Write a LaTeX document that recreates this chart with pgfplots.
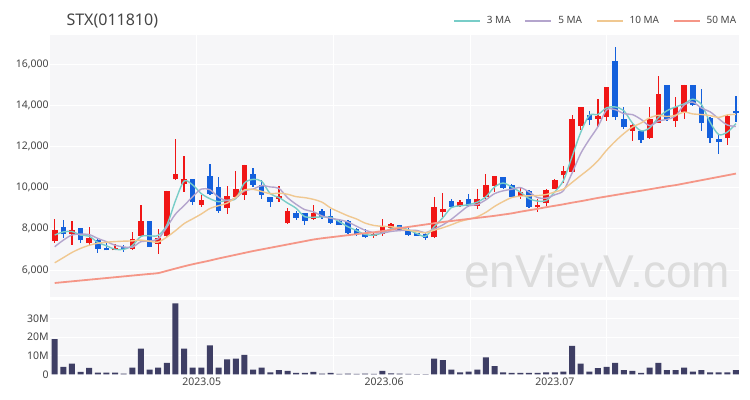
\documentclass[border=0pt]{standalone}
\usepackage{fontspec}
\setmainfont{Noto Sans}
\newfontfamily\wmfont{Liberation Sans}
\usepackage{pgfplots}
\pgfplotsset{compat=1.18}
\usepackage{pgfplotstable}

\definecolor{panelbg}{RGB}{246,246,248}
\definecolor{labelgray}{RGB}{70,70,70}
\definecolor{upred}{RGB}{240,22,22}
\definecolor{downblue}{RGB}{20,96,220}
\definecolor{volcol}{RGB}{62,62,100}
\definecolor{maA}{RGB}{120,205,200}
\definecolor{maB}{RGB}{180,165,205}
\definecolor{maC}{RGB}{240,200,145}
\definecolor{maD}{RGB}{245,150,135}
\definecolor{wmark}{RGB}{220,220,220}

% rising days (close >= open)
\pgfplotstableread{
i o h l c
0 7400 8480 7310 7950
2 7730 8370 7190 7920
4 7305 8080 7145 7565
7 6950 7240 6950 7050
9 7015 7855 6985 7500
10 7660 9180 7600 8370
12 7275 8000 6790 7565
13 7630 9855 7600 9855
14 10400 12355 10370 10660
15 10180 11515 9775 10435
17 9180 9660 9080 9400
20 9015 10100 8695 9615
21 9565 10820 9530 9935
22 9660 11115 9405 11115
26 9450 10100 9290 9595
27 8275 9015 8240 8855
30 8470 9180 8405 8790
37 7630 7790 7530 7725
38 7725 8500 7675 8080
39 8050 8275 8000 8210
44 7595 9565 7565 9080
45 8820 9760 8565 8950
47 9130 9390 9065 9325
49 9130 9955 8985 9425
50 9520 10650 9425 10105
51 10070 10555 9780 10555
54 9585 9975 9425 9810
56 9035 9425 8805 9165
57 9230 9910 9100 9875
58 9940 10395 9910 10360
59 10590 11040 10235 10815
60 10750 13520 10720 13345
61 12985 13925 12790 13895
63 13345 14280 12920 13470
64 13440 14865 13215 14865
67 12760 13115 12275 13050
69 12405 13925 12370 13345
70 13115 15415 13115 14540
72 13215 14380 12920 13895
73 13665 14995 13310 14995
78 12405 13505 12050 13470
}\upday

% falling days (close < open)
\pgfplotstableread{
i o h l c
1 8110 8440 7560 7730
3 8050 8050 7310 7435
5 7470 7500 6850 7015
6 7080 7355 6950 6950
8 7110 7190 6890 7015
11 8400 8400 7110 7110
16 10420 10420 9180 9290
18 10580 11145 9660 9695
19 10015 10530 8790 8855
23 10660 10950 10050 10145
24 10145 10370 9435 9660
25 9530 9565 9080 9305
28 8760 8855 8405 8530
29 8760 8790 8180 8370
31 8855 8965 8500 8565
32 8630 8985 8275 8305
33 8370 8405 8175 8175
34 8370 8405 7760 7820
35 7985 8050 7660 7760
36 7820 7985 7565 7595
40 8175 8175 7950 7950
41 7950 8050 7660 7695
42 7790 7790 7660 7660
43 7760 7790 7435 7565
46 9360 9425 9035 9065
48 9455 9680 9100 9130
52 10525 10525 9975 10005
53 10135 10170 9520 9520
55 9845 9875 9035 9065
62 13505 13730 13020 13280
65 16160 16810 13280 13410
66 13345 13925 12825 12920
68 12725 12725 12145 12305
71 14965 14965 13215 13310
74 14995 14995 13960 13990
75 13925 14800 12760 13115
76 13375 13440 12145 12405
77 12370 12600 11625 12210
79 13700 14445 13180 13635
}\downday

% moving averages
\pgfplotstableread{
i m3 m5 m10 m50
0 7700 7130 6350 5370
1 7850 7450 6600 5410
2 7867 7700 6850 5450
3 7695 7740 7050 5490
4 7640 7720 7200 5530
5 7338 7533 7300 5570
6 7177 7377 7350 5610
7 7005 7203 7380 5650
8 7005 7119 7400 5690
9 7188 7106 7413 5730
10 7628 7377 7455 5770
11 7660 7409 7393 5810
12 7682 7512 7358 5850
13 8177 8080 7600 5960
14 9360 8712 7909 6070
15 10317 9125 8251 6180
16 10128 9561 8485 6280
17 9708 9928 8720 6370
18 9462 9896 8988 6460
19 9317 9535 9124 6560
20 9388 9371 9248 6650
21 9468 9500 9531 6740
22 10222 9843 9886 6830
23 10398 9933 9915 6920
24 10307 10094 9815 7000
25 9703 10032 9702 7080
26 9520 9964 9732 7160
27 9252 9512 9678 7240
28 8993 9189 9561 7320
29 8585 8931 9513 7400
30 8563 8828 9430 7480
31 8575 8622 9293 7540
32 8553 8512 9012 7590
33 8348 8441 8815 7640
34 8100 8331 8631 7690
35 7918 8125 8477 7740
36 7725 7931 8277 7790
37 7693 7815 8164 7830
38 7800 7796 8119 7890
39 8005 7874 8103 7950
40 8080 7912 8019 8030
41 7952 7932 7932 8090
42 7768 7919 7867 8150
43 7640 7816 7806 8210
44 8102 7990 7932 8270
45 8532 8190 8051 8330
46 9032 8464 8198 8380
47 9113 8797 8358 8430
48 9173 9110 8463 8480
49 9293 9179 8585 8530
50 9553 9410 8800 8580
51 10028 9708 9086 8630
52 10222 9844 9321 8690
53 10027 9922 9516 8750
54 9778 9999 9589 8830
55 9465 9791 9601 8900
56 9347 9513 9611 8970
57 9368 9487 9666 9050
58 9800 9655 9789 9120
59 10350 9856 9928 9190
60 11507 10712 10252 9270
61 12685 11658 10586 9340
62 13507 12339 10913 9420
63 13548 12961 11308 9500
64 13872 13771 11814 9570
65 13915 13784 12248 9640
66 13732 13589 12624 9710
67 13127 13543 12941 9780
68 12758 13310 13136 9850
69 12900 13006 13389 9920
70 13397 13232 13508 9990
71 13732 13310 13450 10060
72 13915 13479 13511 10120
73 14067 14017 13664 10200
74 14293 14146 13576 10280
75 14033 13861 13547 10360
76 13170 13680 13495 10440
77 12577 13343 13411 10520
78 12695 13038 13528 10600
79 13105 12967 13557 10680
}\mavg

% volume, millions of shares
\pgfplotstableread{
i v
0 18.9
1 4.0
2 5.8
3 1.3
4 3.5
5 0.9
6 0.9
7 0.9
8 0.4
9 3.6
10 13.8
11 2.5
12 3.6
13 6.2
14 38.2
15 13.8
16 3.6
17 3.6
18 15.6
19 3.6
20 8.0
21 8.4
22 10.5
23 2.5
24 3.6
25 1.1
26 2.2
27 1.8
28 0.7
29 0.7
30 1.3
31 0.4
32 0.7
33 0.2
34 0.4
35 0.2
36 0.4
37 0.2
38 1.8
39 0.5
40 0.4
41 0.2
42 0.1
43 0.1
44 8.4
45 7.6
46 2.5
47 1.1
48 1.5
49 2.5
50 9.1
51 4.4
52 1.1
53 0.7
54 0.7
55 0.7
56 0.7
57 1.1
58 1.1
59 1.5
60 15.3
61 5.8
62 1.5
63 3.3
64 4.0
65 6.2
66 2.2
67 1.8
68 0.7
69 3.6
70 6.2
71 2.2
72 2.2
73 3.6
74 1.5
75 2.2
76 1.1
77 1.1
78 1.1
79 2.2
}\vol

\pgfplotsset{
  panel/.style={
    scale only axis, width=689bp,
    xmin=-0.5, xmax=79.4,
    axis background/.style={fill=panelbg},
    axis line style={draw=none},
    major tick length=0pt,
    xtick={16.5,32.3,48.2,64.0}, xticklabels={},
    xmajorgrids, ymajorgrids,
    major grid style={draw=white, line width=1bp},
    tick label style={font=\fontsize{10.5bp}{12bp}\selectfont, text=labelgray},
    yticklabel style={inner sep=1.5bp},
    scaled y ticks=false,
    /pgf/number format/assume math mode=true,
  },
  wick/.style={draw=none, mark=none, forget plot,
    error bars/.cd, y dir=both, y explicit, error mark=none,
    error bar style={draw=#1, line width=1.2bp}},
  body/.style={draw=none, mark=none, forget plot,
    error bars/.cd, y dir=plus, y explicit, error mark=none,
    error bar style={draw=#1, line width=5.6bp}},
}

\begin{document}
\begin{tikzpicture}
\path[use as bounding box, fill=white] (0,0) rectangle (750bp,400bp);

\node[anchor=west, font=\fontsize{16bp}{18bp}\selectfont, text=labelgray] at (63bp,379bp) {STX(011810)};

% price panel
\begin{axis}[panel, at={(50.4bp,103bp)}, anchor=south west, height=262bp,
  ymin=4690, ymax=17408,
  ytick={6000,8000,10000,12000,14000,16000},
  yticklabels={{6,000},{8,000},{10,000},{12,000},{14,000},{16,000}},
  legend columns=4,
  legend style={at={(1,1)}, anchor=east, yshift=14bp, xshift=-1bp,
    draw=none, fill=none, inner sep=0pt,
    font=\fontsize{10bp}{12bp}\selectfont, text=labelgray,
    /tikz/every odd column/.append style={column sep=4bp},
    /tikz/every even column/.append style={column sep=12bp}},
  legend image code/.code={\draw[#1, line width=1.6bp] (0bp,0bp) -- (26bp,0bp);},
]
\node[font=\wmfont\fontsize{46bp}{50bp}\selectfont, text=wmark] at (axis cs:62.9,5950) {enVievV.com};

\addplot[wick=upred] table[x=i, y=c, y error plus expr=\thisrow{h}-\thisrow{c}, y error minus expr=\thisrow{c}-\thisrow{l}] {\upday};
\addplot[body=upred] table[x=i, y=o, y error expr=\thisrow{c}-\thisrow{o}] {\upday};
\addplot[wick=downblue] table[x=i, y=c, y error plus expr=\thisrow{h}-\thisrow{c}, y error minus expr=\thisrow{c}-\thisrow{l}] {\downday};
\addplot[body=downblue] table[x=i, y=c, y error expr=\thisrow{o}-\thisrow{c}] {\downday};

\addplot[maA, line width=1.4bp, smooth, no marks] table[x=i, y=m3] {\mavg};
\addlegendentry{3 MA}
\addplot[maB, line width=1.4bp, smooth, no marks] table[x=i, y=m5] {\mavg};
\addlegendentry{5 MA}
\addplot[maC, line width=1.4bp, smooth, no marks] table[x=i, y=m10] {\mavg};
\addlegendentry{10 MA}
\addplot[maD, line width=1.8bp, smooth, no marks] table[x=i, y=m50] {\mavg};
\addlegendentry{50 MA}
\end{axis}

% volume panel
\begin{axis}[panel, at={(50.4bp,25.7bp)}, anchor=south west, height=74.3bp,
  ymin=0, ymax=40,
  ytick={0,10,20,30,40}, yticklabels={0,10M,20M,30M,},
  extra x ticks={17.05,38.2,58.0},
  extra x tick labels={2023.05,2023.06,2023.07},
  extra x tick style={grid=none},
]
\addplot[ybar, bar width=6bp, fill=volcol, draw=none] table[x=i, y=v] {\vol};
\end{axis}
\end{tikzpicture}
\end{document}
